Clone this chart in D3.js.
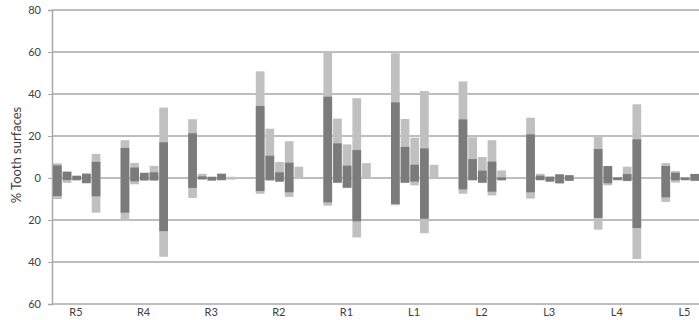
<!DOCTYPE html>
<html>
<head>
<meta charset="utf-8">
<script src="https://cdn.jsdelivr.net/npm/d3@7"></script>
<style>
body{margin:0;background:#fff;}
svg{display:block;font-family:Lato,"Open Sans",sans-serif;}
</style>
</head>
<body>
<svg id="canvas" width="699" height="320"></svg>
<script>
let teeth=["R5","R4","R3","R2","R1","L1","L2","L3","L4","L5"];
let yTicks=[-60,-40,-20,0,20,40,60,80];

// five bars per tooth, light = full range, dark = inner range
let lightTop=[[7,3,1.2,2.2,11.5],[18,7.2,2.6,5.8,33.5],[28,2,0.7,2.1,0.6],[50.8,23.5,7.6,17.5,5.4],[60.2,28.3,16,38,7.1],
    [59.4,28.1,19.2,41.4,6.3],[46,19.4,10,18,3.6],[28.7,2,0.7,1.8,1.4],[20.2,5.7,0.4,5.4,35.1],[7.1,3.3,0.3,2,1]];
let darkTop=[[6,3,1,2,7.7],[14.3,5,2.4,2.7,17],[21.3,0.8,0.5,2,0],[34.3,10.6,2.7,7.3,0],[38.7,16.5,5.9,13.3,0],
    [36,14.8,6.3,14.1,0],[27.9,9,3.5,7.8,0.3],[20.8,1.1,0.6,1.7,1.3],[13.8,5.7,0.3,1.9,18.4],[5.7,2.5,0.2,1.9,0.8]];
let darkBot=[[-8.6,-1,-1,-2.4,-8.7],[-16.5,-1.6,-1.1,-1.1,-25.3],[-4.7,-0.6,-1.2,-1,0],[-6.2,-1,-1.7,-6.8,0],[-11.6,-2.2,-4.6,-20.6,0],
    [-12.4,-2.2,-1.7,-19.4,0],[-5.4,-1,-2.2,-6.5,-1],[-6.8,-1,-1.7,-2.5,-1.3],[-19,-2.5,-1,-1.4,-23.8],[-9.2,-1.1,-1,-1.3,-0.8]];
let lightBot=[[-10,-2.3,-1.2,-2.6,-16.5],[-19.5,-3,-1.3,-1.3,-37.5],[-9.5,-0.8,-1.3,-1.1,-0.8],[-7.5,-1.3,-1.8,-9,0],[-13.2,-2.4,-4.8,-28.3,0],
    [-13,-2.4,-3.5,-26.3,0],[-7.5,-1.2,-2.4,-8.3,-1.2],[-9.8,-1.1,-1.8,-2.6,-1.4],[-24.6,-3.5,-1.1,-1.5,-38.6],[-11.4,-2.2,-1.1,-1.4,-1]];

let canvas=d3.select('#canvas');

let mLeft=52, mTop=10, mBottom=304;
let x=d3.scaleBand().domain(teeth).range([mLeft+1,mLeft+1+676]).padding(0);
let x1=d3.scaleBand().domain(d3.range(5)).range([0,47.4]).paddingInner(0.1).paddingOuter(0);
let y=d3.scaleLinear().domain([-60,80]).range([mBottom,mTop]);

// grid
canvas.append('g')
    .selectAll('line')
    .data(yTicks)
    .enter()
    .append('line')
    .attr('x1',mLeft)
    .attr('x2',699)
    .attr('y1',(d)=>y(d))
    .attr('y2',(d)=>y(d))
    .attr('stroke','#a8a8a8')
    .attr('stroke-width',1.5);

let yAxis=d3.axisLeft(y).tickValues(yTicks).tickSize(4).tickFormat((d)=>Math.abs(d));
let ay=canvas.append('g')
    .attr('transform','translate('+mLeft+',0)')
    .call(yAxis);
ay.select('.domain').attr('stroke','#a8a8a8').attr('stroke-width',1.5);
ay.selectAll('.tick line').attr('stroke','#a8a8a8');
ay.selectAll('.tick text')
    .attr('x',-11)
    .attr('fill','#404040')
    .style('font-size','11px')
    .style('font-family','Lato,"Open Sans",sans-serif');

let bars=[];
teeth.forEach((t,i)=>{
    for(let j=0;j<5;j++){
        bars.push({tooth:t,k:j,lt:lightTop[i][j],lb:lightBot[i][j],dt:darkTop[i][j],db:darkBot[i][j]});
    }
});

canvas.append('g')
    .selectAll('rect')
    .data(bars)
    .enter()
    .append('rect')
    .attr('x',(d)=>x(d.tooth)+x1(d.k))
    .attr('width',x1.bandwidth())
    .attr('y',(d)=>y(d.lt))
    .attr('height',(d)=>y(d.lb)-y(d.lt))
    .attr('fill','#c0c0c0');

canvas.append('g')
    .selectAll('rect')
    .data(bars.filter((d)=>d.dt!==d.db))
    .enter()
    .append('rect')
    .attr('x',(d)=>x(d.tooth)+x1(d.k))
    .attr('width',x1.bandwidth())
    .attr('y',(d)=>y(d.dt))
    .attr('height',(d)=>y(d.db)-y(d.dt))
    .attr('fill','#7b7b7b');

canvas.append('g')
    .selectAll('text')
    .data(teeth)
    .enter()
    .append('text')
    .attr('x',(d)=>x(d)+23)
    .attr('y',316)
    .attr('text-anchor','middle')
    .attr('fill','#404040')
    .style('font-size','11px')
    .text((d)=>d);

canvas.append('text')
    .attr('transform','translate(21,155) rotate(-90)')
    .attr('text-anchor','middle')
    .attr('fill','#404040')
    .style('font-size','13px')
    .text('% Tooth surfaces');
</script>
</body>
</html>
